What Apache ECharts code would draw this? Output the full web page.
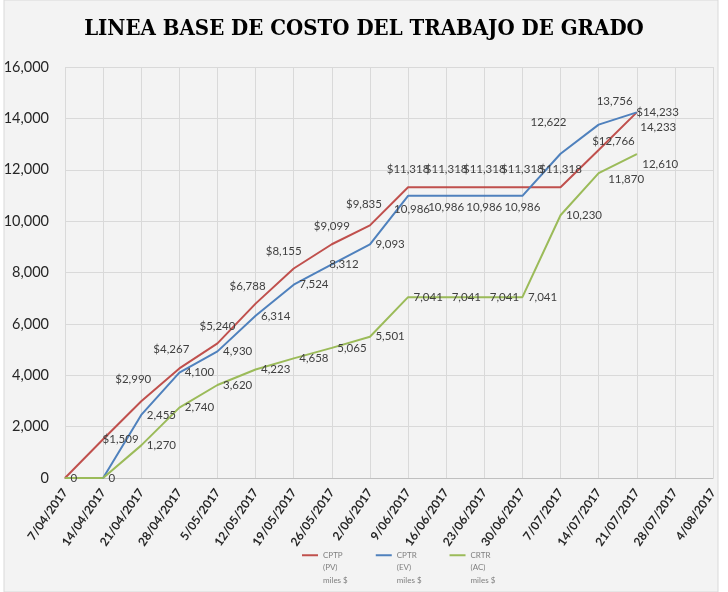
<!DOCTYPE html>
<html>
<head>
<meta charset="utf-8">
<script src="https://cdn.jsdelivr.net/npm/echarts@6/dist/echarts.min.js"></script>
<style>
html,body{margin:0;padding:0;background:#fff;}
#main{width:728px;height:592px;}
</style>
</head>
<body>
<div id="main"></div>
<script>
// fechas semanales
var fechas = ['7/04/2017','14/04/2017','21/04/2017','28/04/2017','5/05/2017','12/05/2017','19/05/2017','26/05/2017','2/06/2017','9/06/2017','16/06/2017','23/06/2017','30/06/2017','7/07/2017','14/07/2017','21/07/2017','28/07/2017','4/08/2017'];

// CPTP (PV)
var cptp = [0,1509,2990,4267,5240,6788,8155,9099,9835,11318,11318,11318,11318,11318,12766,14233];
// CPTR (EV)
var cptr = [null,0,2455,4100,4930,6314,7524,8312,9093,10986,10986,10986,10986,12622,13756,14233];
// CRTR (AC)
var crtr = [0,0,1270,2740,3620,4223,4658,5065,5501,7041,7041,7041,7041,10230,11870,12610];

var nombres = ['CPTP\n(PV)\nmiles $','CPTR\n(EV)\nmiles $','CRTR\n(AC)\nmiles $'];
var colores = ['#c0504d','#4f81bd','#9bbb59'];

// posicion de etiquetas (solo estilo)
var posRojo = ['none','right','top','top','top','top','top','top','top','top','top','top','top','top','right','right'];
var posAzul = ['none','right','right','right','right','right','right','right','right','bottom','bottom','bottom','bottom','top','top','right'];
var posVerde = ['right','none','right','right','right','right','right','right','right','right','right','right','right','right','right','right'];
// pequeños ajustes de etiquetas
var ajusteRojo = {1:[-6,0],2:[-8,-4],3:[-8,-2],5:[-8,0],6:[-10,0],8:[-6,-4],14:[-12,-9],15:[-6,0]};
var ajusteAzul = {7:[-8,0],9:[4,2],13:[-12,-14],14:[16,-6],15:[-2,15]};
var ajusteVerde = {14:[4,6],15:[0,10]};

function fmt(v){
	return v.toString().replace(/\B(?=(\d{3})+(?!\d))/g, ',');
}

function armar(valores,pos,ajuste){
	var arr = [];
	for(var i = 0; i < valores.length; i++){
		if(valores[i] == null){ arr.push('-'); continue; }
		var item = {value: valores[i]};
		if(pos[i] == 'none'){
			item.label = {show:false};
		}else{
			item.label = {show:true, position:pos[i], distance:(pos[i] == 'top' ? 11 : 5)};
			if(ajuste[i]) item.label.offset = ajuste[i];
		}
		arr.push(item);
	}
	return arr;
}

function serie(i,valores,pos,ajuste,prefijo){
	return {
		name:nombres[i],
		type:'line',
		data:armar(valores,pos,ajuste),
		symbol:'circle',
		symbolSize:1,
		showSymbol:true,
		lineStyle:{width:2,color:colores[i]},
		itemStyle:{color:colores[i]},
		label:{
			show:true,
			fontFamily:'Lato, sans-serif',
			fontSize:11.5,
			color:'#404040',
			formatter:function(p){return prefijo + fmt(p.value);}
		}
	};
}

var myChart = echarts.init(document.getElementById('main'));

var option = {
	backgroundColor:'#fff',
	animation:false,
	graphic:[{
		type:'rect',
		shape:{x:4,y:0,width:714,height:592},
		style:{fill:'#f3f3f3',stroke:'#d9d9d9'},
		z:-10
	}],
	title:{
		text:'LINEA BASE DE COSTO DEL TRABAJO DE GRADO',
		left:'center',
		top:13,
		textStyle:{
			fontFamily:'DejaVu Serif Condensed, Liberation Serif, serif',
			fontWeight:'bold',
			fontSize:22,
			color:'#000'
		}
	},
	grid:{left:65,right:15,top:67,bottom:114,containLabel:false},
	legend:{
		data:nombres,
		top:519,
		left:297,
		itemGap:28,
		itemWidth:16,
		itemHeight:2,
		icon:'rect',
		formatter:function(n){return '\n\n' + n;},
		textStyle:{fontSize:8,color:'#7f7f7f',lineHeight:12.5,fontFamily:'Lato, sans-serif'}
	},
	xAxis:{
		type:'category',
		data:fechas,
		boundaryGap:false,
		axisLine:{lineStyle:{color:'#bfbfbf'}},
		axisTick:{show:false},
		axisLabel:{rotate:55,interval:0,fontSize:12,fontWeight:'bold',color:'#262626',fontFamily:'Lato, sans-serif',margin:12},
		splitLine:{show:true,lineStyle:{color:'#d9d9d9'}}
	},
	yAxis:{
		type:'value',
		min:0,
		max:16000,
		interval:2000,
		axisLine:{show:false},
		axisTick:{show:false},
		axisLabel:{fontSize:14.5,color:'#262626',formatter:function(v){return fmt(v);},fontFamily:'Lato, sans-serif',margin:16},
		splitLine:{lineStyle:{color:'#d9d9d9'}}
	},
	series:[
		serie(0,cptp,posRojo,ajusteRojo,'$'),
		serie(1,cptr,posAzul,ajusteAzul,''),
		serie(2,crtr,posVerde,ajusteVerde,'')
	]
};

myChart.setOption(option);
</script>
</body>
</html>
